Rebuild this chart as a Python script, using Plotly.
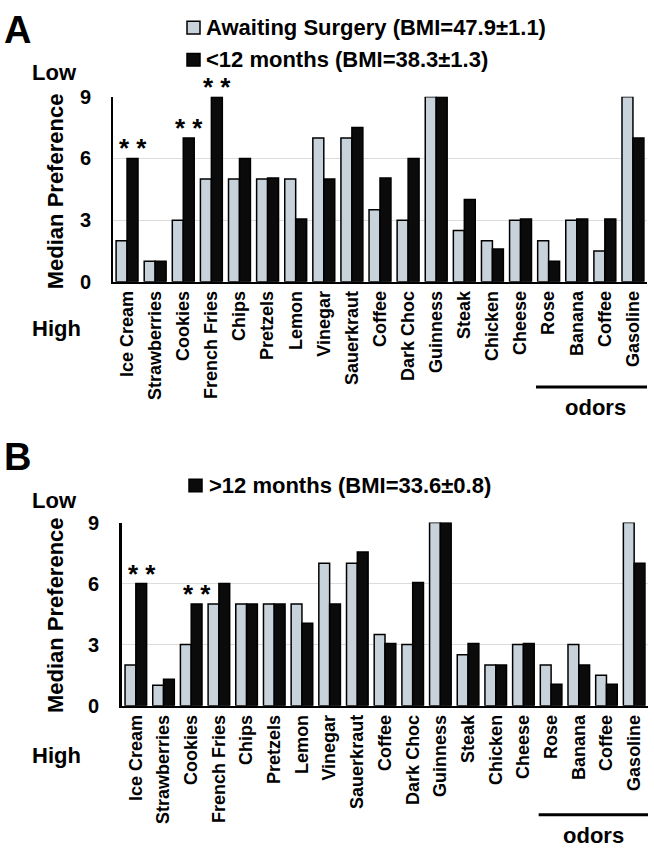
import plotly.graph_objects as go

categories = ["Ice Cream", "Strawberries", "Cookies", "French Fries", "Chips", "Pretzels",
              "Lemon", "Vinegar", "Sauerkraut", "Coffee", "Dark Choc", "Guinness", "Steak",
              "Chicken", "Cheese", "Rose", "Banana", "Coffee", "Gasoline"]
awaiting_A = [2, 1, 3, 5, 5, 5, 5, 7, 7, 3.5, 3, 9, 2.5, 2, 3, 2, 3, 1.5, 9]
under12 = [6, 1, 7, 9, 6, 5.05, 3.05, 5, 7.5, 5.05, 6, 9, 4, 1.6, 3.05, 1, 3.05, 3.05, 7]
awaiting_B = [2, 1, 3, 5, 5, 5, 5, 7, 7, 3.5, 3, 9, 2.5, 2, 3, 2, 3, 1.5, 9]
over12 = [6, 1.3, 5, 6, 5, 5, 4.05, 5, 7.55, 3.05, 6.05, 9, 3.05, 2, 3.05, 1.05, 2, 1.05, 7]
sig_A = [0, 2, 3]
sig_B = [0, 2]
yticks = [0, 3, 6, 9]

W, H = 654, 856
LIGHT = "#c7d2da"
DARK = "#0b0b0b"
FONT = "Liberation Sans"
idx = list(range(len(categories)))

def px(x):
    return x / W

def py(y):
    return 1 - y / H

fig = go.Figure()
fig.add_trace(go.Bar(x=idx, y=awaiting_A, marker=dict(color=LIGHT, line=dict(color="black", width=1.5)),
                     xaxis="x", yaxis="y", showlegend=False))
fig.add_trace(go.Bar(x=idx, y=under12, marker=dict(color=DARK, line=dict(color="black", width=1.5)),
                     xaxis="x", yaxis="y", showlegend=False))
fig.add_trace(go.Bar(x=idx, y=awaiting_B, marker=dict(color=LIGHT, line=dict(color="black", width=1.5)),
                     xaxis="x2", yaxis="y2", showlegend=False))
fig.add_trace(go.Bar(x=idx, y=over12, marker=dict(color=DARK, line=dict(color="black", width=1.5)),
                     xaxis="x2", yaxis="y2", showlegend=False))

xcommon = dict(tickmode="array", tickvals=idx, ticktext=categories, tickangle=-90,
               range=[-0.5, len(categories) - 0.5], showline=True, linecolor="black", linewidth=2,
               showgrid=False, ticks="", tickfont=dict(family=FONT, size=18, color="black", weight="bold"))
ycommon = dict(range=[0, 9], tickmode="array", tickvals=yticks, showline=True, linecolor="black",
               showgrid=True, gridcolor="#dcdcdc", gridwidth=1, zeroline=False, ticks="",
               ticklabelstandoff=16, tickfont=dict(family=FONT, size=20, color="black", weight="bold"))

fig.update_layout(
    width=W, height=H, margin=dict(l=0, r=0, t=0, b=0),
    paper_bgcolor="white", plot_bgcolor="white",
    barmode="group", bargap=0.22, bargroupgap=0,
    xaxis=dict(domain=[px(113), px(647)], anchor="y", **xcommon),
    yaxis=dict(domain=[py(278), py(88)], anchor="x", linewidth=2, **ycommon),
    xaxis2=dict(domain=[px(122), px(648)], anchor="y2", **xcommon),
    yaxis2=dict(domain=[py(713), py(525)], anchor="x2", linewidth=3, **ycommon),
    font=dict(family=FONT, color="black"),
)

ann = []
def text(x, y, s, size, xanchor="center", **kw):
    ann.append(dict(x=px(x), y=py(y), xref="paper", yref="paper", text=s, showarrow=False,
                    xanchor=xanchor, yanchor="middle",
                    font=dict(family=FONT, size=size, color="black", weight="bold"), **kw))

text(17, 19, "A", 38)
text(17, 458, "B", 38)
text(54, 63, "Low", 22)
text(56, 326, "High", 22)
text(54, 502, "Low", 22)
text(56, 764, "High", 22)
text(55, 185, "Median Preference", 22, textangle=-90)
text(55, 620, "Median Preference", 22, textangle=-90)
text(204, 17, "Awaiting Surgery (BMI=47.9±1.1)", 22, xanchor="left")
text(204, 50, "<12 months (BMI=38.3±1.3)", 22, xanchor="left")
text(207, 487, ">12 months (BMI=33.6±0.8)", 22, xanchor="left")
text(595, 407, "odors", 22)
text(593, 846, "odors", 22)

for i in sig_A:
    ann.append(dict(x=i, y=under12[i], xref="x", yref="y", text="* *", showarrow=False, xshift=6,
                    xanchor="center", yanchor="bottom", yshift=-7,
                    font=dict(family=FONT, size=26, color="black", weight="bold")))
for i in sig_B:
    ann.append(dict(x=i, y=over12[i], xref="x2", yref="y2", text="* *", showarrow=False, xshift=6,
                    xanchor="center", yanchor="bottom", yshift=-7,
                    font=dict(family=FONT, size=26, color="black", weight="bold")))

shapes = [
    dict(type="rect", xref="paper", yref="paper", x0=px(187), x1=px(200), y0=py(23.5), y1=py(10.5),
         fillcolor=LIGHT, line=dict(color="black", width=1.5)),
    dict(type="rect", xref="paper", yref="paper", x0=px(187), x1=px(200), y0=py(56.5), y1=py(43.5),
         fillcolor=DARK, line=dict(color="black", width=1.5)),
    dict(type="rect", xref="paper", yref="paper", x0=px(189), x1=px(202), y0=py(493.5), y1=py(480.5),
         fillcolor=DARK, line=dict(color="black", width=1.5)),
    dict(type="line", xref="x", yref="paper", x0=14.55, x1=18.68, y0=py(386), y1=py(386),
         line=dict(color="black", width=3)),
    dict(type="line", xref="x2", yref="paper", x0=14.55, x1=18.65, y0=py(825), y1=py(825),
         line=dict(color="black", width=3)),
]
fig.update_layout(annotations=ann, shapes=shapes)
fig.write_html("out.html", config={"displayModeBar": False},
               post_script="document.body.style.margin='0';document.body.style.overflow='hidden';")
